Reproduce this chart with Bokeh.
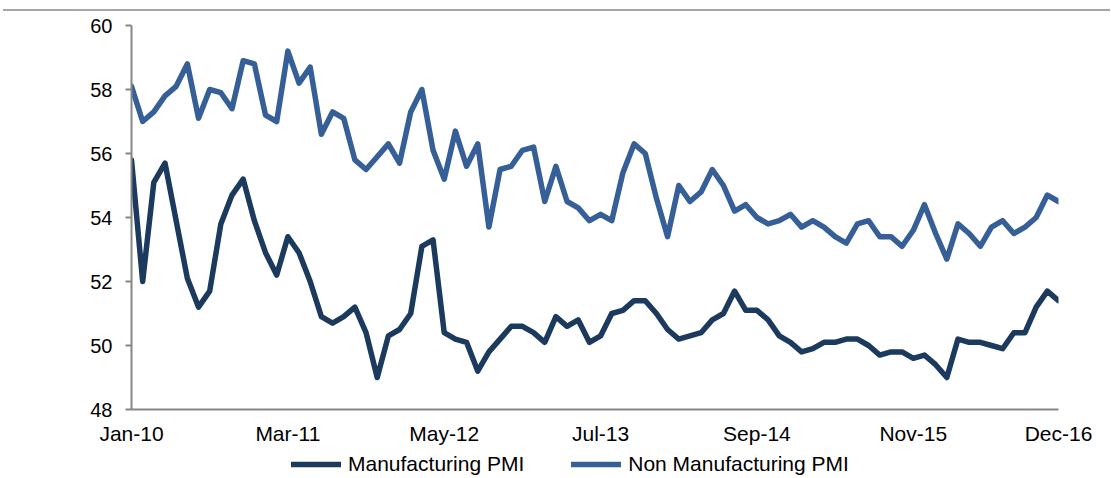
import numpy as np
from bokeh.plotting import figure
from bokeh.models import FixedTicker, Legend, LegendItem, Div
from bokeh.layouts import column
from bokeh.embed import file_html
from bokeh.resources import INLINE

# Monthly PMI readings, Jan-2010 .. Dec-2016
manufacturing_pmi = [
    55.8, 52.0, 55.1, 55.7, 53.9, 52.1, 51.2, 51.7, 53.8, 54.7, 55.2, 53.9,
    52.9, 52.2, 53.4, 52.9, 52.0, 50.9, 50.7, 50.9, 51.2, 50.4, 49.0, 50.3,
    50.5, 51.0, 53.1, 53.3, 50.4, 50.2, 50.1, 49.2, 49.8, 50.2, 50.6, 50.6,
    50.4, 50.1, 50.9, 50.6, 50.8, 50.1, 50.3, 51.0, 51.1, 51.4, 51.4, 51.0,
    50.5, 50.2, 50.3, 50.4, 50.8, 51.0, 51.7, 51.1, 51.1, 50.8, 50.3, 50.1,
    49.8, 49.9, 50.1, 50.1, 50.2, 50.2, 50.0, 49.7, 49.8, 49.8, 49.6, 49.7,
    49.4, 49.0, 50.2, 50.1, 50.1, 50.0, 49.9, 50.4, 50.4, 51.2, 51.7, 51.4,
]
non_manufacturing_pmi = [
    58.1, 57.0, 57.3, 57.8, 58.1, 58.8, 57.1, 58.0, 57.9, 57.4, 58.9, 58.8,
    57.2, 57.0, 59.2, 58.2, 58.7, 56.6, 57.3, 57.1, 55.8, 55.5, 55.9, 56.3,
    55.7, 57.3, 58.0, 56.1, 55.2, 56.7, 55.6, 56.3, 53.7, 55.5, 55.6, 56.1,
    56.2, 54.5, 55.6, 54.5, 54.3, 53.9, 54.1, 53.9, 55.4, 56.3, 56.0, 54.6,
    53.4, 55.0, 54.5, 54.8, 55.5, 55.0, 54.2, 54.4, 54.0, 53.8, 53.9, 54.1,
    53.7, 53.9, 53.7, 53.4, 53.2, 53.8, 53.9, 53.4, 53.4, 53.1, 53.6, 54.4,
    53.5, 52.7, 53.8, 53.5, 53.1, 53.7, 53.9, 53.5, 53.7, 54.0, 54.7, 54.5,
]
series_names = ["Manufacturing PMI", "Non Manufacturing PMI"]
tick_months = [0, 14, 28, 42, 56, 70, 83]
tick_labels = ["Jan-10", "Mar-11", "May-12", "Jul-13", "Sep-14", "Nov-15", "Dec-16"]
y_ticks = [48, 50, 52, 54, 56, 58, 60]

month = np.arange(len(manufacturing_pmi))
series = [manufacturing_pmi, non_manufacturing_pmi]

FONT = "Liberation Sans"
AXIS_GREY = "#868686"
COLORS = ["#1b3a5e", "#355f96"]
LINE_W = 5.5

# ---- main chart -------------------------------------------------------------
p = figure(
    width=1111, height=438,
    x_range=(0, 83), y_range=(48, 60),
    output_backend="svg", toolbar_location=None,
    min_border_left=131, min_border_right=53,
    min_border_top=14, min_border_bottom=40,
    background_fill_color="white", border_fill_color="white",
)
p.outline_line_color = None
p.grid.visible = False

for vals, col in zip(series, COLORS):
    p.line(month, vals, line_color=col, line_width=LINE_W,
           line_join="round", line_cap="round")

ya = p.yaxis[0]
ya.ticker = FixedTicker(ticks=y_ticks)
ya.axis_line_color = AXIS_GREY
ya.axis_line_width = 2
ya.major_tick_line_color = AXIS_GREY
ya.major_tick_line_width = 2
ya.major_tick_out = 6
ya.major_tick_in = 0
ya.minor_tick_line_color = None
ya.major_label_standoff = 13
ya.major_label_text_font = FONT
ya.major_label_text_font_size = "20px"
ya.major_label_text_color = "black"

xa = p.xaxis[0]
xa.ticker = FixedTicker(ticks=tick_months)
xa.major_label_overrides = {m: lab for m, lab in zip(tick_months, tick_labels)}
xa.axis_line_color = AXIS_GREY
xa.axis_line_width = 2
xa.major_tick_line_color = None
xa.major_tick_out = 0
xa.major_tick_in = 0
xa.minor_tick_line_color = None
xa.major_label_standoff = 12
xa.major_label_text_font = FONT
xa.major_label_text_font_size = "21px"
xa.major_label_text_color = "black"

# ---- legend strip -------------------------------------------------------------
# Same series drawn again, but the y range keeps them out of view, so only the
# legend entries show. The column aligns this strip's frame with the chart's.
leg = figure(
    width=1111, height=29,
    x_range=(0, 83), y_range=(0, 1),
    x_axis_type=None, y_axis_type=None,
    output_backend="svg", toolbar_location=None,
    min_border=0, background_fill_color="white", border_fill_color="white",
)
leg.outline_line_color = None
leg.grid.visible = False

items = []
for vals, col, name in zip(series, COLORS, series_names):
    r = leg.line(month, vals, line_color=col, line_width=LINE_W,
                 line_join="round", line_cap="round")
    items.append(LegendItem(label=name, renderers=[r]))

legend = Legend(
    items=items,
    orientation="horizontal",
    location=(160, 2),
    glyph_width=50, glyph_height=20,
    label_standoff=7, spacing=47,
    padding=0, margin=0,
    border_line_color=None, background_fill_alpha=0,
    label_text_font=FONT, label_text_font_size="21px",
    label_text_color="black",
)
leg.add_layout(legend, "center")

# thin grey rule across the top of the page
rule = Div(width=1107, height=11, margin=(0, 0, 0, 3),
           styles={"border-bottom": "2px solid #a6a6a6", "box-sizing": "border-box"})

layout = column(rule, p, leg, spacing=0)

open("out.html", "w").write(file_html(layout, INLINE))
